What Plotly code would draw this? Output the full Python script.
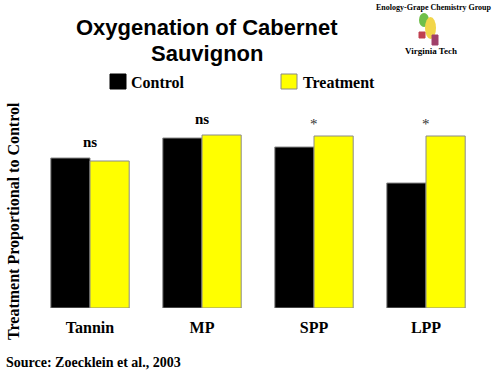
import plotly.graph_objects as go

categories = ["Tannin", "MP", "SPP", "LPP"]
control = [150, 170, 161, 125]
treatment = [147, 173, 172, 172]
significance = ["ns", "ns", "*", "*"]

SERIF = "Liberation Serif, Times New Roman, serif"
SANS = "Liberation Sans, Arial, sans-serif"

W, H = 500, 375
L, R, T, B = 34, 18, 108, 67
PW, PH = W - L - R, H - T - B

def px(x, y):
    # figure pixel -> plot-area paper fraction
    return (x - L) / PW, (H - B - y) / PH

fig = go.Figure()
fig.add_bar(x=categories, y=control, name="Control",
            marker=dict(color="#000000", line=dict(color="#8a8a8a", width=1)))
fig.add_bar(x=categories, y=treatment, name="Treatment",
            marker=dict(color="#ffff00", line=dict(color="#8a8a8a", width=1)))

annotations = []
for cat, c, t, s in zip(categories, control, treatment, significance):
    top = max(c, t)
    if s == "ns":
        annotations.append(dict(x=cat, y=top + 16, xref="x", yref="y", text="<b>ns</b>",
                                showarrow=False, font=dict(family=SERIF, size=15, color="#000")))
    else:
        annotations.append(dict(x=cat, y=top + 12, xref="x", yref="y", text="*",
                                showarrow=False, font=dict(family=SERIF, size=15, color="#333")))

def add_text(x, y, text, family, size, color="#000", xanchor="center", angle=0):
    xx, yy = px(x, y)
    annotations.append(dict(x=xx, y=yy, xref="paper", yref="paper", text=text, showarrow=False,
                            xanchor=xanchor, yanchor="middle", textangle=angle,
                            font=dict(family=family, size=size, color=color)))

add_text(207, 27, "<b>Oxygenation of Cabernet</b>", SANS, 22)
add_text(207, 53, "<b>Sauvignon</b>", SANS, 22)
add_text(14, 221, "<b>Treatment Proportional to Control</b>", SERIF, 16, angle=-90)
add_text(129, 82, "<b>Control</b>", SERIF, 16, xanchor="left")
add_text(301, 82, "<b>Treatment</b>", SERIF, 16, xanchor="left")
add_text(4, 362, "<b>Source: Zoecklein et al., 2003</b>", SERIF, 14, xanchor="left")
add_text(434, 7, "<b>Enology-Grape Chemistry Group</b>", SERIF, 8)
add_text(431, 51, "<b>Virginia Tech</b>", SERIF, 9)

shapes = []
def rect(x0, y0, x1, y1, fill, line="#555"):
    a0, b0 = px(x0, y0); a1, b1 = px(x1, y1)
    shapes.append(dict(type="rect", xref="paper", yref="paper", x0=a0, y0=b0, x1=a1, y1=b1,
                       fillcolor=fill, line=dict(color=line, width=1)))

def ell(x0, y0, x1, y1, fill):
    a0, b0 = px(x0, y0); a1, b1 = px(x1, y1)
    shapes.append(dict(type="circle", xref="paper", yref="paper", x0=a0, y0=b0, x1=a1, y1=b1,
                       fillcolor=fill, line=dict(width=0)))

rect(110, 74, 126, 89, "#000000", "#000")
rect(281, 74, 297, 89, "#ffff00", "#888")
# small logo
ell(419, 13, 429, 27, "#6fbf4a")
ell(425, 17, 436, 39, "#f2d64a")
rect(432, 35, 438, 45, "#a0406a", "#a0406a")
rect(419, 32, 425, 38, "#c04050", "#c04050")

fig.update_layout(
    width=W, height=H,
    margin=dict(l=L, r=R, t=T, b=B, autoexpand=False),
    paper_bgcolor="white", plot_bgcolor="white",
    barmode="group", bargap=0.30, bargroupgap=0,
    showlegend=False,
    xaxis=dict(showline=False, showgrid=False, zeroline=False, ticks="",
               tickfont=dict(family=SERIF, size=16, color="#000"), ticklabelstandoff=8,
               tickvals=categories, ticktext=["<b>%s</b>" % c for c in categories]),
    yaxis=dict(range=[0, 200], visible=False),
    annotations=annotations, shapes=shapes,
)
fig.write_html("out.html", config={"displayModeBar": False},
               post_script="document.body.style.margin='0';document.body.style.overflow='hidden';")
